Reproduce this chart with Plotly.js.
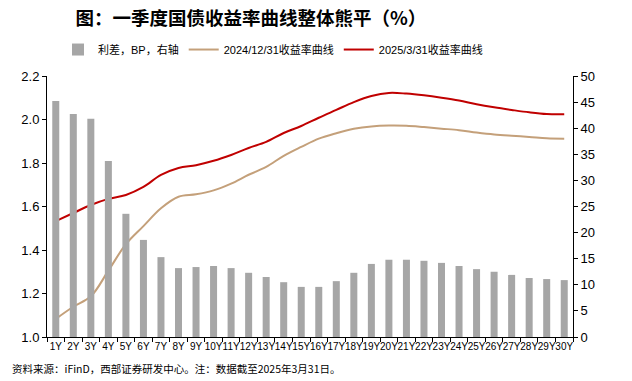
<!DOCTYPE html>
<html><head><meta charset="utf-8">
<script src="https://cdn.plot.ly/plotly-3.0.1.min.js"></script>
<style>html,body{margin:0;padding:0;background:#fff;}#chart{width:632px;height:381px;}</style>
</head><body><div id="chart"></div>
<script>
const categories = ["1Y","2Y","3Y","4Y","5Y","6Y","7Y","8Y","9Y","10Y","11Y","12Y","13Y","14Y","15Y","16Y","17Y","18Y","19Y","20Y","21Y","22Y","23Y","24Y","25Y","26Y","27Y","28Y","29Y","30Y"];
const spreadBP = [45.2,42.7,41.8,33.7,23.6,18.6,15.3,13.2,13.4,13.6,13.2,12.3,11.5,10.5,9.6,9.6,10.7,12.3,14.0,14.8,14.8,14.6,14.2,13.6,13.0,12.5,11.9,11.3,11.1,10.9];
const curve20241231 = [1.083,1.139,1.187,1.305,1.427,1.510,1.592,1.645,1.656,1.674,1.705,1.746,1.782,1.833,1.874,1.912,1.937,1.957,1.968,1.972,1.971,1.965,1.958,1.951,1.940,1.931,1.925,1.920,1.914,1.912];
const curve20250331 = [1.533,1.570,1.607,1.635,1.653,1.690,1.745,1.777,1.790,1.810,1.837,1.869,1.897,1.938,1.970,2.008,2.044,2.080,2.108,2.122,2.119,2.111,2.100,2.087,2.070,2.056,2.044,2.033,2.025,2.024];
const rightTicks = [0,5,10,15,20,25,30,35,40,45,50];
const leftTicks = [1.0,1.2,1.4,1.6,1.8,2.0,2.2];

const txtFont = {family: "Liberation Sans, Noto Sans CJK SC, sans-serif", size: 11, color: "#000"};
const traces = [
  {type:"bar", x:categories, y:spreadBP, name:"利差，BP，右轴", yaxis:"y2", marker:{color:"#A6A6A6"}},
  {type:"scatter", mode:"lines", x:categories, y:curve20241231, name:"2024/12/31收益率曲线", line:{color:"#C4A07A", width:2, shape:"spline", smoothing:1}},
  {type:"scatter", mode:"lines", x:categories, y:curve20250331, name:"2025/3/31收益率曲线", line:{color:"#C00000", width:2, shape:"spline", smoothing:1}}
];
const layout = {
  width:632, height:381,
  margin:{l:47, r:59, t:76, b:44},
  paper_bgcolor:"#fff", plot_bgcolor:"#fff",
  font: txtFont,
  title:{text:"<b>图：一季度国债收益率曲线整体熊平（%）</b>", xref:"container", x:0.397, xanchor:"center", yref:"container", y:0.952, yanchor:"middle", font:{family:"Noto Sans CJK SC, sans-serif", size:18.5, color:"#000"}},
  showlegend:true,
  legend:{orientation:"h", xref:"container", x:0.432, xanchor:"center", yref:"container", y:0.87, yanchor:"middle", font:{family:"Liberation Sans, Noto Sans CJK SC, sans-serif", size:11}, traceorder:"normal", itemwidth:30},
  bargap:0.6,
  xaxis:{type:"category", showline:true, linecolor:"#000", linewidth:1, ticks:"outside", ticklen:4, tickcolor:"#000", tickson:"boundaries", showgrid:false, tickangle:0, tickfont:{family:"Liberation Sans, sans-serif", size:10}, zeroline:false},
  yaxis:{range:[1.0,2.2], tickvals:leftTicks, ticktext:leftTicks.map(v=>v.toFixed(1)), showline:true, linecolor:"#000", linewidth:1, ticks:"outside", ticklen:4, tickcolor:"#000", showgrid:false, zeroline:false, tickfont:{family:"Liberation Sans, sans-serif", size:13}},
  yaxis2:{overlaying:"y", side:"right", range:[0,50], tickvals:rightTicks, showline:true, linecolor:"#000", linewidth:1, ticks:"outside", ticklen:4, tickcolor:"#000", showgrid:false, zeroline:false, tickfont:{family:"Liberation Sans, sans-serif", size:13}},
  annotations:[{text:"资料来源：iFinD，西部证券研发中心。注：数据截至2025年3月31日。", xref:"paper", yref:"paper", x:-0.0703, y:-0.119, xanchor:"left", yanchor:"middle", showarrow:false, font:{family:"Noto Sans CJK SC, sans-serif", size:10.5, color:"#000"}}]
};
Plotly.newPlot("chart", traces, layout, {displayModeBar:false, staticPlot:true});
</script></body></html>
